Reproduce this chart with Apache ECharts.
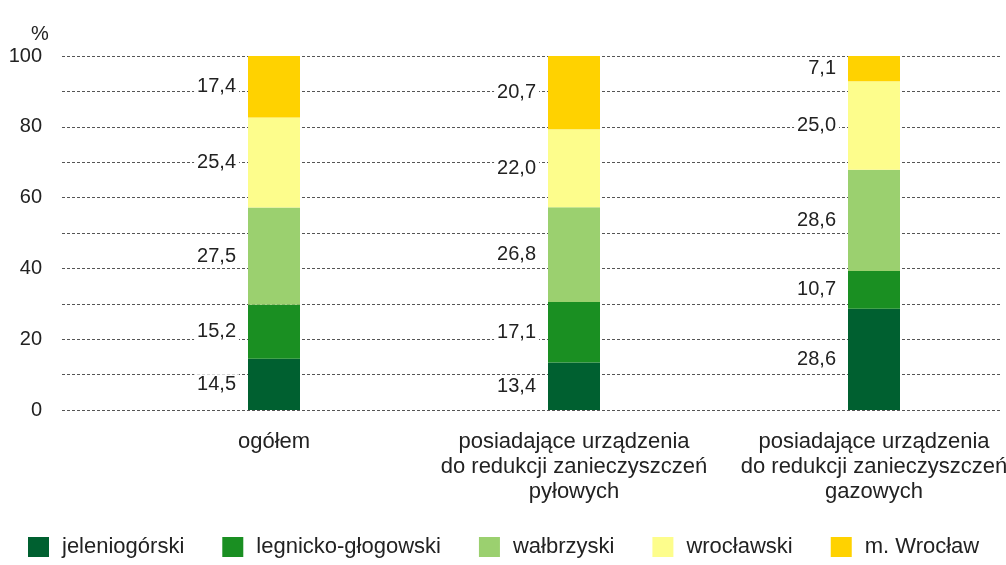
<!DOCTYPE html>
<html>
<head>
<meta charset="utf-8">
<script src="https://cdn.jsdelivr.net/npm/echarts@6/dist/echarts.min.js"></script>
<style>
  html, body { margin: 0; padding: 0; background: #ffffff; overflow: hidden; }
  #chart { width: 1030px; height: 565px; }
</style>
</head>
<body>
<div id="chart"></div>
<script>
// kategorie i dane (%)
var categories = [
  "ogółem",
  "posiadające urządzenia\ndo redukcji zanieczyszczeń\npyłowych",
  "posiadające urządzenia\ndo redukcji zanieczyszczeń\ngazowych"
];
var seriesNames = ["jeleniogórski", "legnicko-głogowski", "wałbrzyski", "wrocławski", "m. Wrocław"];
var jeleniogorski = [14.5, 13.4, 28.6];
var legnickoGlogowski = [15.2, 17.1, 10.7];
var walbrzyski = [27.5, 26.8, 28.6];
var wroclawski = [25.4, 22.0, 25.0];
var mWroclaw = [17.4, 20.7, 7.1];
var yTicks = [0, 20, 40, 60, 80, 100];

var colors = ["#006030", "#1a8f22", "#9bd06f", "#fdfd8c", "#ffd200"];
var font = "Liberation Sans, Arial, sans-serif";

var chart = echarts.init(document.getElementById("chart"));

function makeSeries(name, data, i) {
  return {
    name: name,
    type: "bar",
    stack: "all",
    xAxisIndex: 1,
    yAxisIndex: 1,
    barWidth: 52,
    itemStyle: { color: colors[i] },
    label: {
      show: true,
      position: "left",
      distance: 9,
      fontFamily: font,
      fontSize: 20,
      color: "#222",
      backgroundColor: "#fff",
      padding: [0, 3],
      formatter: function (p) {
        return p.value.toFixed(1).replace(".", ",");
      }
    },
    data: data
  };
}

var option = {
  backgroundColor: "#ffffff",
  animation: false,
  title: {
    text: "%",
    left: 26,
    top: 19,
    textStyle: { fontFamily: font, fontSize: 20, fontWeight: "normal", color: "#222" }
  },
  legend: {
    data: seriesNames,
    left: 23,
    top: 531,
    icon: "rect",
    itemWidth: 21,
    itemHeight: 20,
    itemGap: 38,
    textStyle: { fontFamily: font, fontSize: 22, color: "#222", padding: [0, 0, 0, 8] }
  },
  // drugi grid siega poza okno, zeby slupki staly w odstepach jak w oryginale
  grid: [
    { left: 62, right: 30, top: 56, bottom: 155 },
    { left: 124, right: 6, top: 56, bottom: 155 }
  ],
  xAxis: [
    { type: "category", gridIndex: 0, data: categories, show: false },
    {
      type: "category",
      gridIndex: 1,
      data: categories,
      axisLine: { show: false },
      axisTick: { show: false },
      axisLabel: {
        interval: 0,
        fontFamily: font,
        fontSize: 22,
        color: "#222",
        margin: 19,
        lineHeight: 25
      }
    }
  ],
  yAxis: [
    {
      type: "value",
      gridIndex: 0,
      min: 0,
      max: 100,
      interval: 10,
      axisLine: { show: false },
      axisTick: { show: false },
      axisLabel: {
        fontFamily: font,
        fontSize: 20,
        color: "#222",
        margin: 20,
        formatter: function (v) {
          return yTicks.indexOf(v) > -1 ? String(v) : "";
        }
      },
      splitLine: { lineStyle: { color: "#555", type: [3, 2], width: 1 } }
    },
    { type: "value", gridIndex: 1, min: 0, max: 100, show: false }
  ],
  series: [
    makeSeries(seriesNames[0], jeleniogorski, 0),
    makeSeries(seriesNames[1], legnickoGlogowski, 1),
    makeSeries(seriesNames[2], walbrzyski, 2),
    makeSeries(seriesNames[3], wroclawski, 3),
    makeSeries(seriesNames[4], mWroclaw, 4)
  ]
};

option && chart.setOption(option);
</script>
</body>
</html>
